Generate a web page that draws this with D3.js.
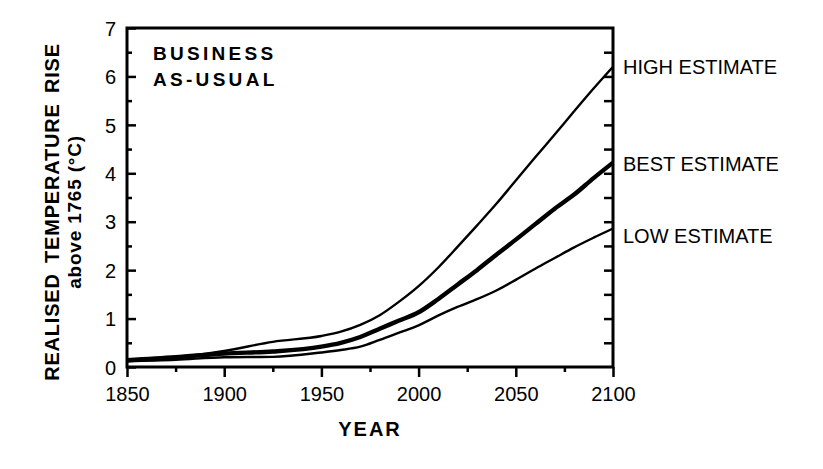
<!DOCTYPE html>
<html>
<head>
<meta charset="utf-8">
<script src="https://cdn.jsdelivr.net/npm/d3@7"></script>
<style>
	body { margin: 0; background: #fff; }
	svg text { font-family: "Liberation Sans", Arial, Helvetica, sans-serif; fill: #000; }
</style>
</head>
<body>
<div id="chart"></div>
<script>
'use strict';

// chart data
var years = [1850, 1875, 1900, 1925, 1950, 1960, 1970, 1980, 1990, 2000,
	2010, 2020, 2030, 2040, 2050, 2060, 2070, 2080, 2090, 2100];
var highEstimate = [0.15, 0.2, 0.33, 0.52, 0.64, 0.73, 0.87, 1.07, 1.35, 1.67,
	2.05, 2.48, 2.92, 3.37, 3.85, 4.33, 4.8, 5.28, 5.75, 6.2];
var bestEstimate = [0.14, 0.2, 0.28, 0.32, 0.42, 0.5, 0.62, 0.79, 0.96, 1.13,
	1.4, 1.7, 2.0, 2.32, 2.63, 2.95, 3.27, 3.56, 3.9, 4.22];
var lowEstimate = [0.12, 0.15, 0.2, 0.21, 0.3, 0.35, 0.42, 0.56, 0.71, 0.86,
	1.06, 1.24, 1.4, 1.58, 1.8, 2.03, 2.25, 2.47, 2.67, 2.86];
var xTicks = [1850, 1900, 1950, 2000, 2050, 2100];
var xMinorTicks = [1875, 1925, 1975, 2025, 2075];
var yTicks = [0, 1, 2, 3, 4, 5, 6, 7];
var yMinorTicks = [0.5, 1.5, 2.5, 3.5, 4.5, 5.5, 6.5];
var halfTicks = [0.5, 1, 1.5, 2, 2.5, 3, 3.5, 4, 4.5, 5, 5.5, 6, 6.5];

var series = [
	{ name: 'HIGH ESTIMATE', values: highEstimate, width: 2.4 },
	{ name: 'BEST ESTIMATE', values: bestEstimate, width: 4.4 },
	{ name: 'LOW ESTIMATE', values: lowEstimate, width: 2.4 }
];

const margin = { top: 28, right: 210, bottom: 102, left: 127 };
var totalW = 823, totalH = 469;
var width = totalW - margin.left - margin.right;
var height = totalH - margin.top - margin.bottom;

var svg = d3.select('#chart').append('svg')
	.attr('width', totalW)
	.attr('height', totalH);

var g = svg.append('g')
	.attr('transform', 'translate(' + margin.left + ',' + margin.top + ')');

var xScale = d3.scaleLinear().domain([1850, 2100]).range([0, width]);
var yScale = d3.scaleLinear().domain([0, 7]).range([height, 0]);

// left axis, ticks pointing in
var yAxis = g.append('g')
	.call(d3.axisLeft(yScale).tickValues(yTicks).tickSizeInner(-9).tickSizeOuter(0)
		.tickPadding(11).tickFormat(d3.format('d')));
var yMinor = g.append('g')
	.call(d3.axisLeft(yScale).tickValues(yMinorTicks).tickSizeInner(-5).tickSizeOuter(0).tickFormat(''));

// right axis, ticks every 0.5 pointing in
var yRight = g.append('g')
	.attr('transform', 'translate(' + width + ',0)')
	.call(d3.axisRight(yScale).tickValues(halfTicks).tickSizeInner(-9).tickSizeOuter(0).tickFormat(''));

// bottom axis, ticks pointing out
var xAxis = g.append('g')
	.attr('transform', 'translate(0,' + height + ')')
	.call(d3.axisBottom(xScale).tickValues(xTicks).tickSizeInner(10).tickSizeOuter(0)
		.tickPadding(10).tickFormat(d3.format('d')));
var xMinor = g.append('g')
	.attr('transform', 'translate(0,' + height + ')')
	.call(d3.axisBottom(xScale).tickValues(xMinorTicks).tickSizeInner(5).tickSizeOuter(0).tickFormat(''));

[yAxis, yMinor, yRight, xAxis, xMinor].forEach(function(a) {
	a.select('.domain').remove();
	a.selectAll('line').style('stroke', '#000').style('stroke-width', 2.5);
	a.selectAll('text').style('font-size', '20px').style('font-family', '"Liberation Sans", Arial, sans-serif');
});
yAxis.selectAll('text').attr('dy', '0.36em');
xAxis.selectAll('text').attr('dy', '0.71em');

// frame
g.append('rect')
	.attr('width', width)
	.attr('height', height)
	.style('fill', 'none')
	.style('stroke', '#000')
	.style('stroke-width', 3);

// lines
var line = d3.line()
	.x(function(d, i) { return xScale(years[i]); })
	.y(function(d) { return yScale(d); })
	.curve(d3.curveMonotoneX);

g.selectAll('.series')
	.data(series)
	.enter().append('path')
	.attr('class', 'series')
	.attr('d', function(d) { return line(d.values); })
	.style('fill', 'none')
	.style('stroke', '#000')
	.style('stroke-width', function(d) { return d.width; })
	.style('stroke-linejoin', 'round');

// series labels to the right of the plot
var labelY = [6.2, 4.2, 2.7];
g.selectAll('.seriesLabel')
	.data(series)
	.enter().append('text')
	.attr('class', 'seriesLabel')
	.attr('x', width + 10)
	.attr('y', function(d, i) { return yScale(labelY[i]); })
	.attr('dy', '0.36em')
	.style('font-size', '20px')
	.text(function(d) { return d.name; });

// scenario title
var title = g.append('text')
	.attr('x', 26)
	.style('font-size', '19px')
	.style('font-weight', 'bold')
	.style('letter-spacing', '3.3px');
title.append('tspan').attr('x', 26).attr('y', 32).text('BUSINESS');
title.append('tspan').attr('x', 26).attr('y', 58).text('AS-USUAL');

// x label
svg.append('text')
	.attr('x', margin.left + width / 2)
	.attr('y', 436)
	.style('text-anchor', 'middle')
	.style('font-size', '20px')
	.style('font-weight', 'bold')
	.style('letter-spacing', '2px')
	.text('YEAR');

// y label, two lines
svg.append('text')
	.attr('transform', 'translate(59,212) rotate(-90)')
	.style('text-anchor', 'middle')
	.style('font-size', '20px')
	.style('font-weight', 'bold')
	.style('letter-spacing', '0.8px')
	.style('word-spacing', '4px')
	.text('REALISED TEMPERATURE RISE');
svg.append('text')
	.attr('transform', 'translate(81,212) rotate(-90)')
	.style('text-anchor', 'middle')
	.style('font-size', '19px')
	.style('font-weight', 'bold')
	.style('letter-spacing', '0.8px')
	.text('above 1765 (°C)');
</script>
</body>
</html>
